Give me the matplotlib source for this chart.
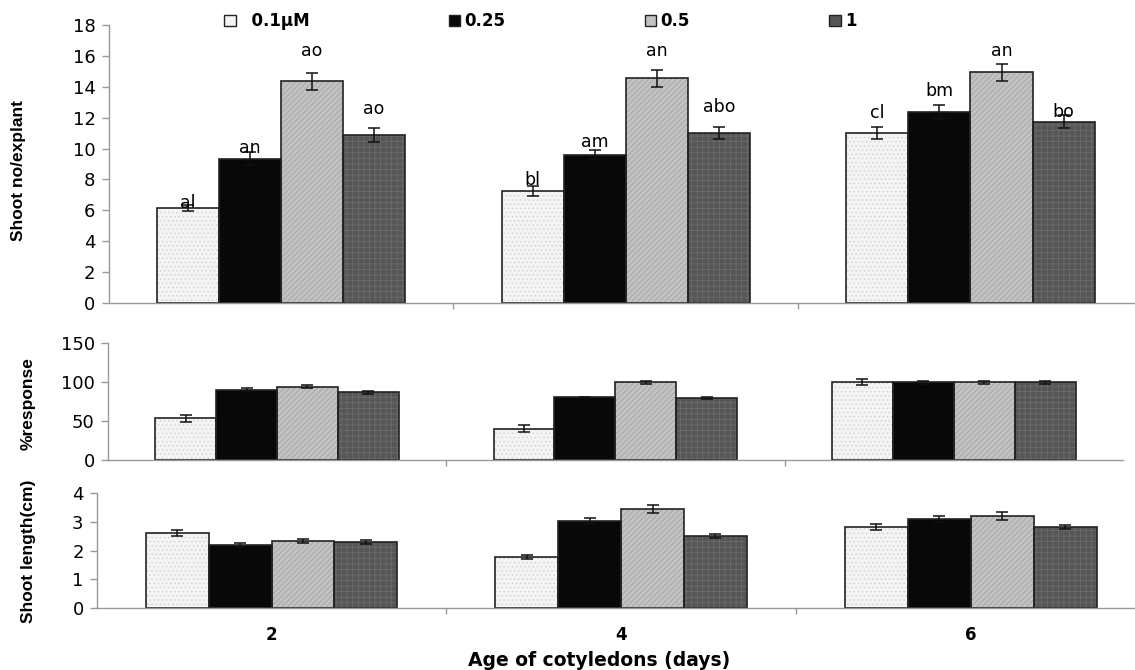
import matplotlib
matplotlib.use("Agg")
import matplotlib.pyplot as plt
import numpy as np

# ─────────── data ───────────
ages = ["2", "4", "6"]
series = ["0.1µM", "0.25", "0.5", "1"]

shoot_no = [
    [6.15, 7.25, 11.0],    # 0.1
    [9.35, 9.6, 12.35],    # 0.25
    [14.35, 14.55, 14.95], # 0.5
    [10.9, 11.0, 11.75],   # 1
]
shoot_no_err = [
    [0.2, 0.3, 0.4],
    [0.4, 0.3, 0.45],
    [0.55, 0.55, 0.55],
    [0.45, 0.4, 0.45],
]
shoot_no_letters = [
    ["al", "bl", "cl"],
    ["an", "am", "bm"],
    ["ao", "an", "an"],
    ["ao", "abo", "bo"],
]

response = [
    [53.5, 40.5, 100],
    [90.5, 80.5, 100],
    [94, 100, 100],
    [87, 80, 100],
]
response_err = [
    [4, 4, 4],
    [2, 1, 2],
    [2, 2, 2],
    [2, 1, 2],
]

shoot_len = [
    [2.61, 1.78, 2.81],
    [2.19, 3.03, 3.11],
    [2.34, 3.44, 3.21],
    [2.30, 2.50, 2.81],
]
shoot_len_err = [
    [0.09, 0.06, 0.1],
    [0.07, 0.1, 0.1],
    [0.08, 0.14, 0.14],
    [0.07, 0.06, 0.07],
]

# pixel lift of each letter above its bar top (hand placed in the original)
letter_dy = [
    [0, 6, 15],
    [6, 8, 16],
    [25, 22, 16],
    [21, 21, 5],
]

colors = ["#f4f4f4", "#080808", "#c2c2c2", "#565656"]
hatch_colors = ["#cfcfcf", "#1a1a1a", "#9e9e9e", "#6e6e6e"]
hatches = ["....", None, "//////", "+++"]
W = 1135
H = 670

plt.rcParams["font.family"] = "DejaVu Sans"
plt.rcParams["hatch.linewidth"] = 0.5


def draw_panel(ax, vals, errs, ymax, ystep, show_x):
    x = np.arange(len(ages))
    bw = 0.18
    bars = []
    for i in range(len(series)):
        xs = x + (i - 1.5) * bw
        # fill with texture, then outline on top
        ax.bar(xs, vals[i], bw, color=colors[i], edgecolor=hatch_colors[i],
               hatch=hatches[i], linewidth=0, zorder=2)
        b = ax.bar(xs, vals[i], bw, facecolor="none", edgecolor="#222222",
                   linewidth=1.2, zorder=2.5)
        ax.errorbar(xs, vals[i], yerr=errs[i], fmt="none",
                    ecolor="#111111", elinewidth=1.1, capsize=4.6,
                    capthick=1.1, zorder=3)
        bars.append(b)
    ax.set_xlim(-0.5, 2.5)
    ax.set_ylim(0, ymax)
    ax.set_yticks(np.arange(0, ymax + 0.01, ystep))
    for s in ["top", "right"]:
        ax.spines[s].set_visible(False)
    for s in ["left", "bottom"]:
        ax.spines[s].set_color("#999999")
        ax.spines[s].set_linewidth(1.0)
    ax.tick_params(axis="y", direction="out", length=5.4, width=1.0,
                   color="#999999", labelsize=13, pad=4)
    ax.set_xticks(x)
    ax.set_xticks([0.5, 1.5], minor=True)
    ax.tick_params(axis="x", which="minor", direction="out", length=4.3,
                   width=1.0, color="#999999")
    if show_x:
        ax.set_xticklabels(ages, fontsize=12, fontweight="bold")
        ax.tick_params(axis="x", which="major", length=0, pad=13)
    else:
        ax.set_xticklabels([])
        ax.tick_params(axis="x", which="major", length=0)
    return bars


fig = plt.figure(figsize=(W / 100, H / 100), dpi=100)

ax1 = fig.add_axes([108.6 / W, 0.5478, 1034.25 / W, 0.4149])
ax2 = fig.add_axes([107.75 / W, 0.3134, 1015.25 / W, 0.1742])
ax3 = fig.add_axes([96.7 / W, 0.0921, 1048.8 / W, 0.1721])

bars1 = draw_panel(ax1, shoot_no, shoot_no_err, 18, 2, False)
draw_panel(ax2, response, response_err, 150, 50, False)
draw_panel(ax3, shoot_len, shoot_len_err, 4, 1, True)

# letters over the shoot number bars
for i, b in enumerate(bars1):
    for j, rect in enumerate(b):
        ax1.annotate(shoot_no_letters[i][j],
                     (rect.get_x() + rect.get_width() / 2, rect.get_height()),
                     xytext=(0, letter_dy[i][j]), textcoords="offset pixels",
                     ha="center", va="baseline", fontsize=12.5, zorder=4)

# legend across the top
handles = [plt.Rectangle((0, 0), 1, 1, facecolor=c, edgecolor="#222222",
                         linewidth=1.0) for c in colors]
labels = ["  " + series[0]] + series[1:]
fig.legend(handles, labels, loc="center left",
           bbox_to_anchor=(224 / W, 1 - 21 / H), ncol=4, frameon=False,
           prop={"size": 12, "weight": "bold"}, handlelength=0.7,
           handleheight=0.65, handletextpad=0.25, columnspacing=8.35,
           borderpad=0, borderaxespad=0)

ylab = dict(rotation=90, ha="center", va="center", fontsize=12.5,
            fontweight="bold", family=["Liberation Sans", "DejaVu Sans"])
fig.text(19 / W, 1 - 170 / H, "Shoot no/explant", **ylab)
fig.text(28 / W, 1 - 404 / H, "%response", **ylab)
fig.text(29 / W, 1 - 551 / H, "Shoot length(cm)", **ylab)

fig.text(599 / W, 1 - 660 / H, "Age of cotyledons (days)", ha="center",
         va="center", fontsize=13.5, fontweight="bold")

fig.savefig("out.png", dpi=100)
plt.close(fig)
